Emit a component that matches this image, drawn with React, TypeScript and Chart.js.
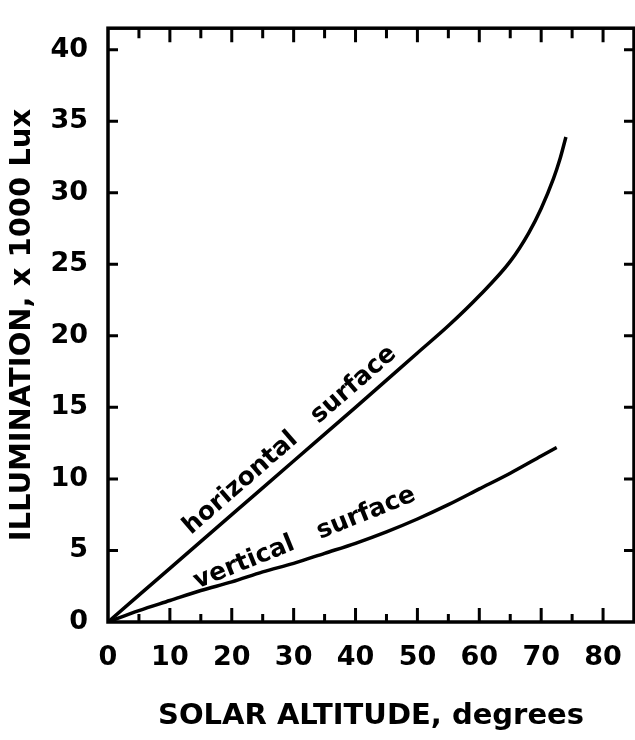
import React, { useEffect, useRef } from 'react';
import { Chart, registerables } from 'chart.js';

Chart.register(...registerables);

// ---- data ----
const altitudeH = [0, 10, 20, 30, 40, 50, 55, 60, 65, 68, 70, 72, 73, 74];
const illumHorizontal = [0, 3.75, 7.5, 11.25, 15.0, 18.8, 20.7, 22.8, 25.2, 27.2, 28.9, 31.0, 32.3, 33.9];

const altitudeV = [0, 5, 10, 15, 20, 25, 30, 35, 40, 45, 50, 55, 60, 65, 70, 72.5];
const illumVertical = [0, 0.8, 1.5, 2.2, 2.8, 3.5, 4.1, 4.8, 5.5, 6.3, 7.2, 8.2, 9.3, 10.4, 11.6, 12.2];

const xTickLabels = [0, 10, 20, 30, 40, 50, 60, 70, 80];
const yTickLabels = [0, 5, 10, 15, 20, 25, 30, 35, 40];
const xTickMarks = [5, 10, 15, 20, 25, 30, 35, 40, 45, 50, 55, 60, 65, 70, 75, 80];
const yTickMarks = [5, 10, 15, 20, 25, 30, 35, 40];

const curveLabels = [
  { text: 'horizontal   surface', x: 29.4, y: 12.7, angle: -41 },
  { text: 'vertical   surface', x: 31.8, y: 5.85, angle: -22 },
];

const FONT = '"DejaVu Sans", "Liberation Sans", sans-serif';

const framePlugin = {
  id: 'frameAndLabels',
  afterDatasetsDraw(chart: any) {
    const { ctx, chartArea, scales } = chart;
    const { left, right, top, bottom } = chartArea;
    const xs = scales.x;
    const ys = scales.y;
    ctx.save();
    ctx.strokeStyle = '#000';
    ctx.lineWidth = 3.5;
    ctx.lineCap = 'butt';
    ctx.strokeRect(left, top, right - left, bottom - top);

    ctx.lineWidth = 3;
    ctx.beginPath();
    for (const v of xTickMarks) {
      const px = xs.getPixelForValue(v);
      const major = v % 10 === 0;
      ctx.moveTo(px, bottom);
      ctx.lineTo(px, bottom - (major ? 14 : 8));
      ctx.moveTo(px, top);
      ctx.lineTo(px, top + (major ? 14 : 10));
    }
    for (const v of yTickMarks) {
      const py = ys.getPixelForValue(v);
      ctx.moveTo(left, py);
      ctx.lineTo(left + 10, py);
      ctx.moveTo(right, py);
      ctx.lineTo(right - 10, py);
    }
    ctx.stroke();

    ctx.fillStyle = '#000';
    ctx.font = `bold 25px ${FONT}`;
    ctx.textAlign = 'center';
    ctx.textBaseline = 'middle';
    for (const l of curveLabels) {
      const px = xs.getPixelForValue(l.x);
      const py = ys.getPixelForValue(l.y);
      ctx.save();
      ctx.translate(px, py);
      ctx.rotate((l.angle * Math.PI) / 180);
      ctx.fillText(l.text, 0, 0);
      ctx.restore();
    }
    ctx.restore();
  },
};

export default function App() {
  const ref = useRef<HTMLCanvasElement | null>(null);

  useEffect(() => {
    document.body.style.margin = '0';
    const canvas = ref.current;
    if (!canvas) return;
    const chart = new Chart(canvas, {
      type: 'scatter',
      data: {
        datasets: [
          {
            label: 'horizontal surface',
            data: altitudeH.map((x, i) => ({ x, y: illumHorizontal[i] })),
            showLine: true,
            borderColor: '#000',
            borderWidth: 3.5,
            pointRadius: 0,
            cubicInterpolationMode: 'monotone',
            fill: false,
          },
          {
            label: 'vertical surface',
            data: altitudeV.map((x, i) => ({ x, y: illumVertical[i] })),
            showLine: true,
            borderColor: '#000',
            borderWidth: 3.5,
            pointRadius: 0,
            cubicInterpolationMode: 'monotone',
            fill: false,
          },
        ],
      },
      options: {
        responsive: false,
        animation: false,
        layout: { padding: { top: 12, right: 1, left: 0, bottom: 0 } },
        plugins: { legend: { display: false }, tooltip: { enabled: false } },
        scales: {
          x: {
            type: 'linear',
            min: 0,
            max: 85,
            grid: { display: false },
            border: { display: false },
            afterBuildTicks: (s: any) => {
              s.ticks = xTickLabels.map((v) => ({ value: v }));
            },
            afterFit: (s: any) => {
              s.height = 118;
            },
            ticks: {
              color: '#000',
              padding: 12,
              maxRotation: 0,
              autoSkip: false,
              font: { family: FONT, size: 27, weight: 'bold' },
            },
            title: {
              display: true,
              text: 'SOLAR ALTITUDE, degrees',
              color: '#000',
              font: { family: FONT, size: 29, weight: 'bold' },
              padding: { top: 0, bottom: 6 },
            },
          },
          y: {
            type: 'linear',
            min: 0,
            max: 41.5,
            grid: { display: false },
            border: { display: false },
            afterBuildTicks: (s: any) => {
              s.ticks = yTickLabels.map((v) => ({ value: v }));
            },
            afterFit: (s: any) => {
              s.width = 108;
            },
            ticks: {
              color: '#000',
              padding: 12,
              autoSkip: false,
              font: { family: FONT, size: 27, weight: 'bold' },
            },
            title: {
              display: true,
              text: 'ILLUMINATION, x 1000 Lux',
              color: '#000',
              font: { family: FONT, size: 29, weight: 'bold' },
              padding: { top: 5, bottom: 0 },
            },
          },
        },
      },
      plugins: [framePlugin],
    });
    return () => chart.destroy();
  }, []);

  return <canvas ref={ref} width={635} height={740} style={{ display: 'block' }} />;
}
